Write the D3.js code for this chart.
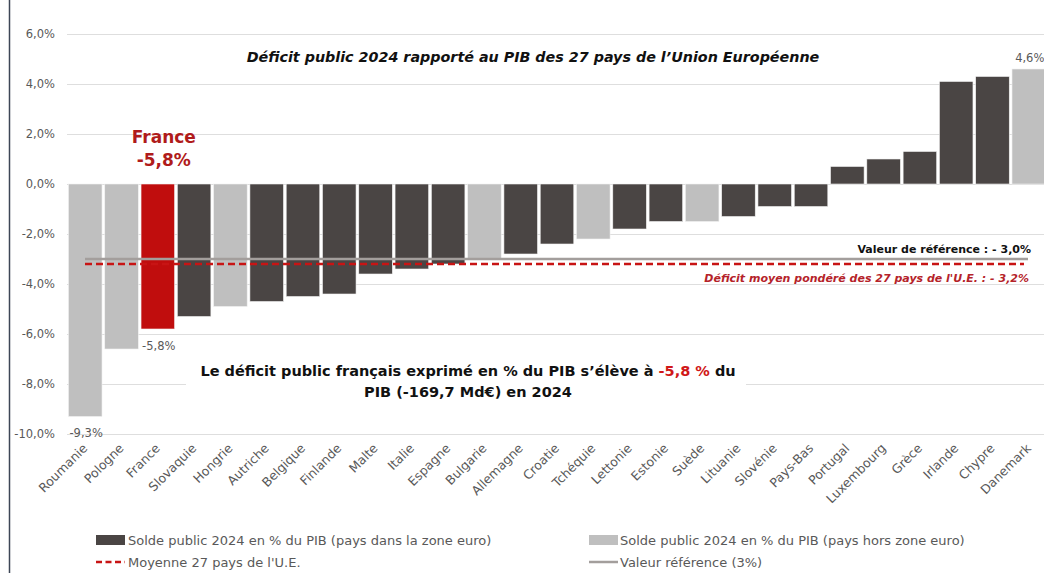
<!DOCTYPE html>
<html>
<head>
<meta charset="utf-8">
<script src="https://cdn.jsdelivr.net/npm/d3@7"></script>
<style>
  html, body { margin: 0; padding: 0; background: #fff; }
  svg { display: block; font-family: "DejaVu Sans", sans-serif; }
</style>
</head>
<body>
<svg id="chart" width="1044" height="573"></svg>
<script>
const countries = ["Roumanie","Pologne","France","Slovaquie","Hongrie","Autriche","Belgique","Finlande","Malte","Italie","Espagne","Bulgarie","Allemagne","Croatie","Tchéquie","Lettonie","Estonie","Suède","Lituanie","Slovénie","Pays-Bas","Portugal","Luxembourg","Grèce","Irlande","Chypre","Danemark"];
const values = [-9.3,-6.6,-5.8,-5.3,-4.9,-4.7,-4.5,-4.4,-3.6,-3.4,-3.2,-3.0,-2.8,-2.4,-2.2,-1.8,-1.5,-1.5,-1.3,-0.9,-0.9,0.7,1.0,1.3,4.1,4.3,4.6];
const zone = ["hors","hors","france","euro","hors","euro","euro","euro","euro","euro","euro","hors","euro","euro","hors","euro","euro","hors","euro","euro","euro","euro","euro","euro","euro","euro","hors"];
const yTicks = [6,4,2,0,-2,-4,-6,-8,-10];
const referenceValue = -3.0;
const euAverage = -3.2;

const colors = { euro: "#4a4544", hors: "#bfbfbf", france: "#c00d0d" };
const FONT = "'DejaVu Sans', sans-serif";
const svg = d3.select("#chart");

const x = d3.scaleBand().domain(countries).range([67, 1047]).paddingInner(0.075).paddingOuter(0.04);
const y = d3.scaleLinear().domain([-10, 6]).range([434, 34]);
const fmt = v => d3.format(".1f")(v).replace(".", ",").replace("−","-") + "%";

// left border
svg.append("line").attr("x1", 9.5).attr("x2", 9.5).attr("y1", 0).attr("y2", 573)
  .attr("stroke", "#3d4656").attr("stroke-width", 1.5);

// gridlines + y labels via axis
const yAxis = d3.axisLeft(y).tickValues(yTicks).tickSize(-(1044 - 67)).tickFormat(fmt).tickPadding(12);
const gy = svg.append("g").attr("transform", "translate(67,0)").call(yAxis);
gy.select(".domain").remove();
gy.selectAll(".tick line").attr("stroke", "#dedede").attr("stroke-width", 1.2);
gy.selectAll(".tick text").attr("fill", "#595959").style("font-size", "11.5px").style("font-family", FONT);

// bars
svg.append("g").selectAll("rect").data(countries).join("rect")
  .attr("x", d => x(d))
  .attr("width", x.bandwidth())
  .attr("y", (d, i) => y(Math.max(0, values[i])))
  .attr("height", (d, i) => Math.abs(y(values[i]) - y(0)))
  .attr("fill", (d, i) => colors[zone[i]])
  .attr("stroke", "#f2f2f2").attr("stroke-width", 0.6);

// reference lines
svg.append("line").attr("x1", 85).attr("x2", 1028).attr("y1", y(referenceValue)).attr("y2", y(referenceValue))
  .attr("stroke", "#a39e9c").attr("stroke-width", 2.5);
svg.append("line").attr("x1", 85).attr("x2", 1024).attr("y1", y(euAverage)).attr("y2", y(euAverage))
  .attr("stroke", "#c81414").attr("stroke-width", 2.5).attr("stroke-dasharray", "7,4");

// x labels
const gx = svg.append("g");
countries.forEach(c => {
  gx.append("text")
    .attr("transform", `translate(${x(c) + x.bandwidth()/2 + 3},${449}) rotate(-45)`)
    .attr("text-anchor", "end")
    .attr("fill", "#595959")
    .style("font-size", "12.5px")
    .text(c);
});

// value labels
svg.append("text").attr("x", x("Roumanie") + 1).attr("y", 437).attr("fill", "#595959").style("font-size", "11.5px").text("-9,3%");
svg.append("text").attr("x", x("France") + 1).attr("y", 350).attr("fill", "#595959").style("font-size", "11.5px").text("-5,8%");
svg.append("text").attr("x", x("Danemark") + x.bandwidth()/2 + 1).attr("y", 62).attr("text-anchor", "middle").attr("fill", "#595959").style("font-size", "11.5px").text("4,6%");

// title
svg.append("text").attr("x", 533).attr("y", 62).attr("text-anchor", "middle")
  .style("font-size", "14.3px").style("font-weight", "bold").style("font-style", "italic").attr("fill", "#111")
  .text("Déficit public 2024 rapporté au PIB des 27 pays de l’Union Européenne");

// France annotation
const fx = x("France") + x.bandwidth()/2;
svg.append("text").attr("x", fx + 6).attr("y", 143).attr("text-anchor", "middle").attr("fill", "#b01b1b")
  .style("font-size", "17px").style("font-weight", "bold").text("France");
svg.append("text").attr("x", fx + 6).attr("y", 166).attr("text-anchor", "middle").attr("fill", "#b01b1b")
  .style("font-size", "17px").style("font-weight", "bold").text("-5,8%");

// reference labels
svg.append("text").attr("x", 1031).attr("y", 253).attr("text-anchor", "end").attr("fill", "#111")
  .style("font-size", "11px").style("font-weight", "bold").text("Valeur de référence : - 3,0%");
svg.append("text").attr("x", 1029).attr("y", 282).attr("text-anchor", "end").attr("fill", "#b5232a")
  .style("font-size", "11px").style("font-weight", "bold").style("font-style", "italic")
  .text("Déficit moyen pondéré des 27 pays de l'U.E. : - 3,2%");

// central text box
svg.append("rect").attr("x", 186).attr("y", 354).attr("width", 560).attr("height", 46).attr("fill", "#fff");
const t1 = svg.append("text").attr("x", 468).attr("y", 376).attr("text-anchor", "middle").attr("fill", "#111")
  .style("font-size", "14.5px").style("font-weight", "bold");
t1.append("tspan").text("Le déficit public français exprimé en % du PIB s’élève à ");
t1.append("tspan").attr("fill", "#d01818").text("-5,8 %");
t1.append("tspan").text(" du");
svg.append("text").attr("x", 468).attr("y", 397).attr("text-anchor", "middle").attr("fill", "#111")
  .style("font-size", "14.5px").style("font-weight", "bold").text("PIB (-169,7 Md€) en 2024");

// legend
const lg = svg.append("g").style("font-size", "13px").attr("fill", "#595959");
lg.append("rect").attr("x", 96).attr("y", 535).attr("width", 29).attr("height", 10).attr("fill", colors.euro);
lg.append("text").attr("x", 128).attr("y", 545).text("Solde public 2024 en % du PIB (pays dans la zone euro)");
lg.append("rect").attr("x", 589).attr("y", 535).attr("width", 29).attr("height", 10).attr("fill", colors.hors);
lg.append("text").attr("x", 620).attr("y", 545).text("Solde public 2024 en % du PIB (pays hors zone euro)");
lg.append("line").attr("x1", 96).attr("x2", 125).attr("y1", 562).attr("y2", 562)
  .attr("stroke", "#c81414").attr("stroke-width", 2.5).attr("stroke-dasharray", "6,3.5");
lg.append("text").attr("x", 128).attr("y", 567).text("Moyenne 27 pays de l'U.E.");
lg.append("line").attr("x1", 589).attr("x2", 618).attr("y1", 562).attr("y2", 562)
  .attr("stroke", "#a39e9c").attr("stroke-width", 2.5);
lg.append("text").attr("x", 620).attr("y", 567).text("Valeur référence (3%)");
</script>
</body>
</html>
